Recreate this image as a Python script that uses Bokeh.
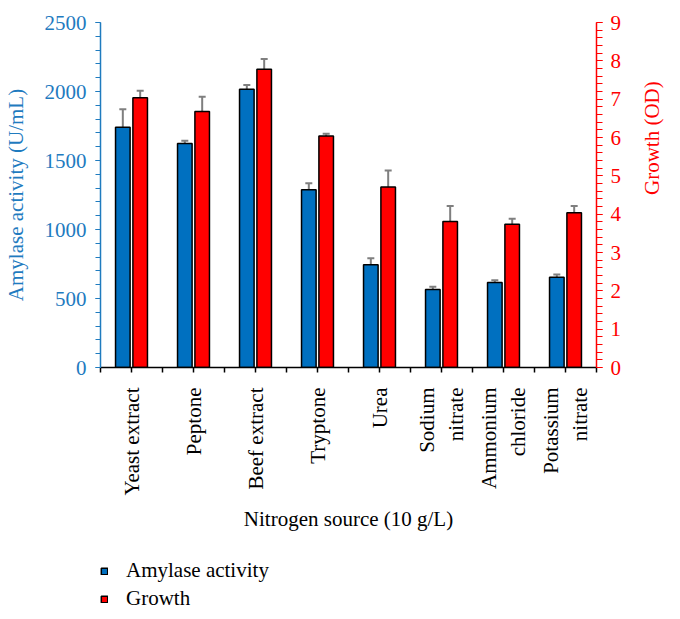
import math
from bokeh.plotting import figure
from bokeh.layouts import column
from bokeh.models import (Range1d, LinearAxis, FixedTicker, SingleIntervalTicker,
                          ColumnDataSource, Whisker, TeeHead, Legend, LegendItem)
from bokeh.embed import file_html
from bokeh.resources import INLINE

categories = ["Yeast extract", "Peptone", "Beef extract", "Tryptone", "Urea",
              ["Sodium", "nitrate"], ["Ammonium", "chloride"], ["Potassium", "nitrate"]]
amylase = [1741, 1623, 2017, 1288, 744, 565, 616, 654]
amylase_err = [130, 20, 30, 47, 48, 20, 17, 20]
growth = [7.04, 6.68, 7.78, 6.04, 4.71, 3.81, 3.74, 4.04]
growth_err = [0.18, 0.38, 0.27, 0.06, 0.43, 0.40, 0.14, 0.17]
series_names = ["Amylase activity", "Growth"]

FONT = "Liberation Serif"
FS = "21px"
BLUE = "#0070c0"
BLUE_TXT = "#1f7bbf"
RED = "#ff0000"
ERR = "#7f7f7f"

n = len(categories)
centers = [i + 0.5 for i in range(n)]
off = 0.14
bw = 0.235
line_off = 0.235

label_pos, label_txt = [], []
for c, lab in zip(centers, categories):
    if isinstance(lab, list):
        label_pos += [c - line_off, c + line_off]
        label_txt += lab
    else:
        label_pos.append(c)
        label_txt.append(lab)

p = figure(width=679, height=535, output_backend="svg", toolbar_location=None,
           x_range=Range1d(0, n), y_range=Range1d(0, 2500),
           min_border_left=100, min_border_right=82, min_border_top=22,
           min_border_bottom=168, x_axis_location=None, y_axis_location=None)
p.outline_line_color = None
p.xgrid.visible = False
p.ygrid.visible = False
p.extra_y_ranges = {"g": Range1d(0, 9)}

src_b = ColumnDataSource(dict(x=[c - off for c in centers], top=amylase,
                              upper=[v + e for v, e in zip(amylase, amylase_err)],
                              lower=[v - e for v, e in zip(amylase, amylase_err)]))
src_r = ColumnDataSource(dict(x=[c + off for c in centers], top=growth,
                              upper=[v + e for v, e in zip(growth, growth_err)],
                              lower=[v - e for v, e in zip(growth, growth_err)]))

rb = p.vbar(x="x", top="top", width=bw, source=src_b, fill_color=BLUE,
            line_color="black", line_width=1.5)
rr = p.vbar(x="x", top="top", width=bw, source=src_r, fill_color=RED,
            line_color="black", line_width=1.5, y_range_name="g")

for src, rng in ((src_b, "default"), (src_r, "g")):
    w = Whisker(base="x", upper="upper", lower="lower", source=src,
                line_color=ERR, line_width=2,
                upper_head=TeeHead(size=7, line_color=ERR, line_width=2),
                lower_head=TeeHead(size=7, line_color=ERR, line_width=2))
    if rng == "g":
        w.y_range_name = "g"
    p.add_layout(w)

tick_marks = sorted(set(list(range(n + 1)) + centers))
xa = LinearAxis(ticker=FixedTicker(ticks=label_pos, minor_ticks=tick_marks))
xa.major_label_overrides = {pos: t for pos, t in zip(label_pos, label_txt)}
xa.major_label_orientation = math.pi / 2
xa.major_label_text_font = FONT
xa.major_label_text_font_size = FS
xa.major_label_text_color = "black"
xa.major_label_standoff = 15
xa.axis_line_color = "black"
xa.axis_line_width = 1.5
xa.major_tick_out = 0
xa.major_tick_in = 0
xa.minor_tick_out = 5
xa.minor_tick_in = 0
xa.major_tick_line_color = None
xa.minor_tick_line_color = "black"
xa.minor_tick_line_width = 1.5
xa.axis_label = "Nitrogen source (10 g/L)"
xa.axis_label_text_font = FONT
xa.axis_label_text_font_size = FS
xa.axis_label_text_font_style = "normal"
xa.axis_label_text_color = "black"
xa.axis_label_standoff = 8
p.add_layout(xa, "below")

ya = LinearAxis(ticker=SingleIntervalTicker(interval=500, num_minor_ticks=5))
ya.axis_label = "Amylase activity (U/mL)"
ya.axis_line_color = BLUE_TXT
ya.axis_line_width = 1.5
ya.major_tick_line_color = BLUE_TXT
ya.minor_tick_line_color = BLUE_TXT
ya.major_tick_out = 5
ya.major_tick_in = 0
ya.minor_tick_out = 5
ya.minor_tick_in = 0
ya.major_label_text_color = BLUE_TXT
ya.major_label_text_font = FONT
ya.major_label_text_font_size = FS
ya.major_label_standoff = 9
ya.axis_label_text_color = BLUE_TXT
ya.axis_label_text_font = FONT
ya.axis_label_text_font_size = FS
ya.axis_label_text_font_style = "normal"
ya.axis_label_standoff = 14
p.add_layout(ya, "left")

ra = LinearAxis(y_range_name="g", ticker=SingleIntervalTicker(interval=1, num_minor_ticks=5))
ra.axis_label = "Growth (OD)"
ra.axis_label_orientation = math.pi / 2
ra.axis_line_color = RED
ra.axis_line_width = 1.5
ra.major_tick_line_color = RED
ra.minor_tick_line_color = RED
ra.major_tick_out = 6
ra.major_tick_in = 0
ra.minor_tick_out = 6
ra.minor_tick_in = 0
ra.major_label_text_color = RED
ra.major_label_text_font = FONT
ra.major_label_text_font_size = FS
ra.major_label_standoff = 8
ra.axis_label_text_color = RED
ra.axis_label_text_font = FONT
ra.axis_label_text_font_size = FS
ra.axis_label_text_font_style = "normal"
ra.axis_label_standoff = 28
p.add_layout(ra, "right")

# legend strip below the chart; its own bars are hidden, only the legend shows
lf = figure(width=679, height=84, output_backend="svg", toolbar_location=None,
            x_range=Range1d(-20, -19), y_range=Range1d(-20, -19), min_border=0,
            x_axis_location=None, y_axis_location=None)
lf.outline_line_color = None
lf.xgrid.visible = False
lf.ygrid.visible = False
lb = lf.vbar(x="x", top="top", width=bw, source=src_b, fill_color=BLUE,
             line_color="black", line_width=1.5, visible=False)
lr = lf.vbar(x="x", top="top", width=bw, source=src_r, fill_color=RED,
             line_color="black", line_width=1.5, visible=False)
legend = Legend(items=[LegendItem(label=series_names[0], renderers=[lb]),
                       LegendItem(label=series_names[1], renderers=[lr])],
                location=(0, 8), orientation="vertical", margin=0, padding=0,
                spacing=3, glyph_width=8, glyph_height=8, label_height=21,
                label_standoff=18, label_text_font=FONT, label_text_font_size=FS,
                label_text_color="black", border_line_alpha=0,
                background_fill_alpha=0, inactive_fill_alpha=0)
lf.add_layout(legend, "center")

open("out.html", "w").write(file_html(column(p, lf, spacing=0), INLINE))
